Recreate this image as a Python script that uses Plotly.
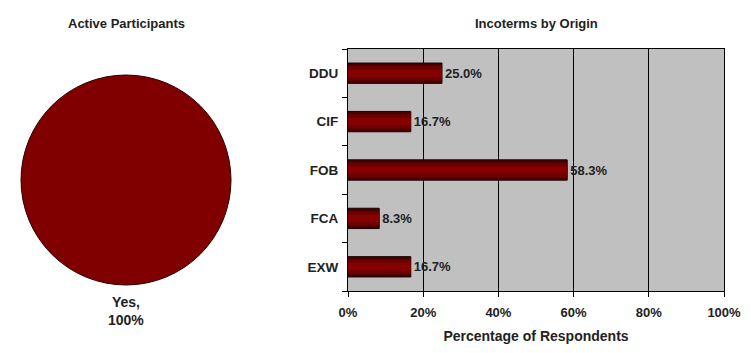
import plotly.graph_objects as go

pie_labels = ["Yes"]
pie_values = [100]

categories = ["DDU", "CIF", "FOB", "FCA", "EXW"]
values = [25.0, 16.7, 58.3, 8.3, 16.7]
x_ticks = [0, 20, 40, 60, 80, 100]
x_tick_text = ["0%", "20%", "40%", "60%", "80%", "100%"]

W, H = 751, 353
FONT = "Liberation Sans, Arial, sans-serif"
TXT = "#222222"
BOLD13 = dict(family=FONT, size=13, color=TXT, weight="bold")

fig = go.Figure()

fig.add_trace(go.Pie(
    labels=pie_labels, values=pie_values,
    marker=dict(colors=["#800000"], line=dict(color="#2a0000", width=1)),
    textinfo="none",
    sort=False, showlegend=False, hoverinfo="label+percent",
    domain=dict(x=[21 / W, 231 / W], y=[(H - 289) / H, (H - 71) / H]),
))

# bar with layered shading to mimic the gradient fill
shades = [(0.42, "#4a0000", dict(color="#1a0000", width=1)),
          (0.30, "#6a0000", dict(width=0)),
          (0.16, "#850000", dict(width=0))]
for i, (w, c, ln) in enumerate(shades):
    fig.add_trace(go.Bar(
        y=categories, x=values, orientation="h",
        marker=dict(color=c, line=ln),
        width=w,
        text=[f"{v:.1f}%" for v in values] if i == 0 else None,
        textposition="outside" if i == 0 else "none", cliponaxis=False,
        textfont=BOLD13,
        showlegend=False, hoverinfo="y+x" if i == 0 else "skip",
        xaxis="x", yaxis="y",
    ))

pie_text = "<br>".join(f"<b>{l},</b><br><b>{v / sum(pie_values) * 100:.0f}%</b>"
                       for l, v in zip(pie_labels, pie_values))

fig.update_layout(
    width=W, height=H,
    barmode="overlay",
    margin=dict(l=0, r=0, t=0, b=0),
    paper_bgcolor="white",
    plot_bgcolor="#C0C0C0",
    font=dict(family=FONT, size=12, color=TXT),
    xaxis=dict(
        domain=[348 / W, 724 / W], range=[0, 100],
        tickvals=x_ticks, ticktext=x_tick_text,
        showgrid=True, gridcolor="black", gridwidth=1,
        showline=True, linecolor="black", linewidth=1, mirror=True,
        ticks="outside", ticklen=5, tickcolor="black",
        tickfont=BOLD13, ticklabelstandoff=4,
        title=dict(text="<b>Percentage of Respondents</b>", standoff=12,
                   font=dict(family=FONT, size=14, color=TXT)),
        zeroline=False, fixedrange=True, automargin=False,
    ),
    yaxis=dict(
        domain=[(H - 291) / H, (H - 49) / H],
        categoryorder="array", categoryarray=categories[::-1],
        tickson="boundaries",
        showline=True, linecolor="black", linewidth=1, mirror=True,
        ticks="outside", ticklen=5, tickcolor="black",
        tickfont=dict(family=FONT, size=13.5, color=TXT, weight="bold"),
        showgrid=False, fixedrange=True, ticklabelstandoff=6, automargin=False,
    ),
    annotations=[
        dict(text="<b>Active Participants</b>", x=126 / W, y=(H - 23) / H,
             xref="paper", yref="paper", showarrow=False,
             xanchor="center", yanchor="middle",
             font=dict(family=FONT, size=13, color=TXT)),
        dict(text="<b>Incoterms by Origin</b>", x=536 / W, y=(H - 23) / H,
             xref="paper", yref="paper", showarrow=False,
             xanchor="center", yanchor="middle",
             font=dict(family=FONT, size=13, color=TXT)),
        dict(text=pie_text, x=126 / W, y=(H - 311) / H,
             xref="paper", yref="paper", showarrow=False,
             xanchor="center", yanchor="middle",
             font=dict(family=FONT, size=14, color=TXT)),
    ],
)

fig.write_html("out.html")
